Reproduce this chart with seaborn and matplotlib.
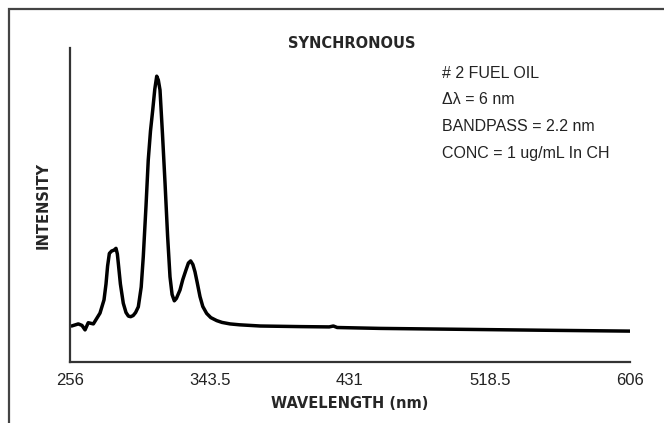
import numpy as np
import matplotlib
matplotlib.use('Agg')
import matplotlib.pyplot as plt
import seaborn as sns
import pandas as pd
from matplotlib.patches import Rectangle

# synchronous spectrum (arbitrary intensity units)
wavelength = [257, 261.2, 263.5, 265.4, 267.4, 270.6, 274.75, 277.25, 278.5, 279.5,
              280.6, 282, 283.5, 284.75, 285.6, 286.2, 287.5, 289.3, 291, 292.5,
              293.9, 295.5, 297, 298.7, 300.5, 301.8, 303.5, 304.9, 306.3, 307.7,
              309, 310.2, 311.2, 312.25, 313.8, 315.4, 317, 318.5, 319.8, 321.2,
              322.5, 324.75, 326.5, 328.5, 330, 331.4, 332.8, 334.1, 335.5, 337.25,
              339, 341.4, 344, 347.7, 351, 356, 362, 375, 400, 418,
              420.6, 423, 450, 500, 550, 606]
intensity = [12, 12.7, 12.2, 10.7, 13.1, 12.7, 16.3, 20.7, 26, 32,
             36.2, 37.0, 37.3, 37.9, 36, 32.9, 26, 19.6, 16.5, 15.3,
             15.1, 15.5, 16.5, 18.4, 25, 35.1, 52, 67.3, 77, 84,
             91, 95.3, 94, 90.7, 76, 59.6, 42, 28.4, 22.5, 20.4,
             21.2, 24, 27.5, 30.7, 33, 33.7, 32.5, 30.1, 26.5, 21.8,
             18.5, 16.2, 14.8, 13.8, 13.2, 12.7, 12.4, 12.0, 11.8, 11.7,
             12.0, 11.5, 11.2, 10.9, 10.6, 10.3]
xticks = [256, 343.5, 431, 518.5, 606]
xtick_labels = ['256', '343.5', '431', '518.5', '606']
notes = ['# 2 FUEL OIL', 'Δλ = 6 nm', 'BANDPASS = 2.2 nm', 'CONC = 1 ug/mL In CH']

df = pd.DataFrame({'Wavelength': wavelength, 'Intensity': intensity})

sns.set_style('white')
plt.rcParams['font.family'] = ['DejaVu Sans']

fig = plt.figure(figsize=(6.64, 4.23), dpi=100)
ax = fig.add_axes([70 / 664, 61 / 423, 560 / 664, 314 / 423])

sns.lineplot(data=df, x='Wavelength', y='Intensity', color='black', linewidth=2.5, ax=ax)

ax.set_xlim(256, 606)
ax.set_ylim(0, 104.7)
ax.set_xticks(xticks)
ax.set_xticklabels(xtick_labels, fontsize=12, color='#222222', family='Liberation Sans')
ax.set_yticks([])
ax.tick_params(axis='x', direction='out', length=5, width=1.5, color='#333333', pad=3)

for side in ['top', 'right']:
    ax.spines[side].set_visible(False)
for side in ['left', 'bottom']:
    ax.spines[side].set_linewidth(1.6)
    ax.spines[side].set_color('#333333')

ax.set_xlabel('WAVELENGTH (nm)', fontsize=10.5, fontweight='bold', labelpad=6)
ax.set_ylabel('INTENSITY', fontsize=10.5, fontweight='bold', labelpad=14)

fig.text(352 / 664, 1 - 43 / 423, 'SYNCHRONOUS', fontsize=10.5, fontweight='bold',
         ha='center', va='center')
for i, note in enumerate(notes):
    fig.text(442 / 664, 1 - (73 + 26.7 * i) / 423, note, fontsize=11.5,
             family='Liberation Sans', ha='left', va='center', color='#222222')

# page frame (top and left edges only, runs off the image)
fig.patches.append(Rectangle((9 / 664, -0.2), 1.2, 0.2 + (1 - 9 / 423), transform=fig.transFigure,
                             fill=False, edgecolor='#444444', linewidth=1.6))

fig.savefig('out.png', dpi=100)
